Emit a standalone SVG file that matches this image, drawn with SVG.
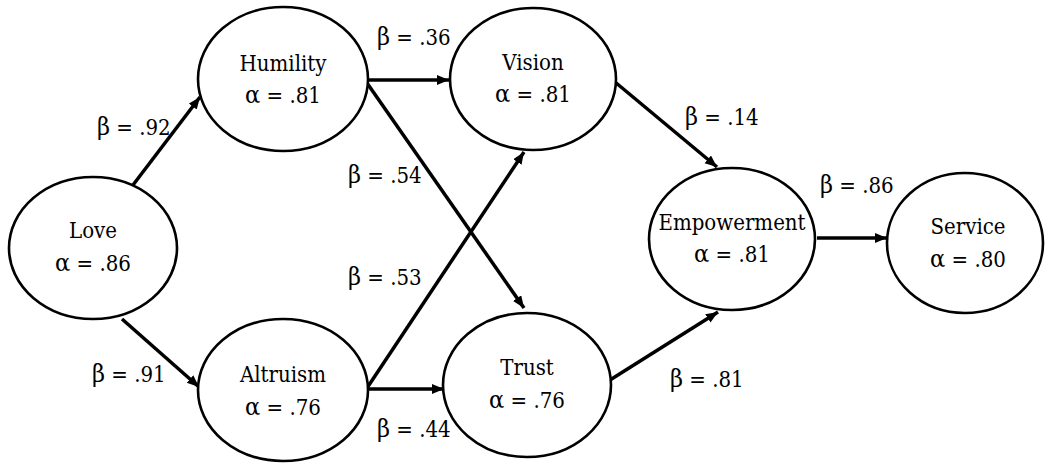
<svg xmlns="http://www.w3.org/2000/svg" width="1045" height="463" viewBox="0 0 1045 463">
<style>
text{font-family:"DejaVu Serif Condensed","DejaVu Serif",serif;font-stretch:condensed;font-size:22px;fill:#000}
.g{font-size:25px}
.node ellipse{fill:#fff;stroke:#000;stroke-width:2.6}
.node text{text-anchor:middle}
.edge{stroke:#000;stroke-width:3.5;fill:none;marker-end:url(#ah)}
</style>
<defs>
<marker id="ah" markerUnits="userSpaceOnUse" markerWidth="14" markerHeight="12" refX="12" refY="5" orient="auto">
<path d="M0,0 L12,5 L0,10 z" fill="#000"/>
</marker>
</defs>
<rect width="1045" height="463" fill="#fff"/>
<g id="connectors">
<line class="edge" x1="133" y1="185" x2="200" y2="97"/>
<line class="edge" x1="122" y1="319" x2="199" y2="387"/>
<line class="edge" x1="367" y1="80" x2="449" y2="80"/>
<line class="edge" x1="367" y1="83" x2="524" y2="308"/>
<line class="edge" x1="367" y1="388" x2="524" y2="152"/>
<line class="edge" x1="367" y1="389" x2="444" y2="389"/>
<line class="edge" x1="615" y1="82" x2="717" y2="167"/>
<line class="edge" x1="610" y1="380" x2="718" y2="312"/>
<line class="edge" x1="817" y1="238" x2="887" y2="238"/>
</g>
<g id="labels">
<text x="97" y="135"><tspan class="g">β</tspan> = .92</text>
<text x="92" y="382"><tspan class="g">β</tspan> = .91</text>
<text x="377" y="45"><tspan class="g">β</tspan> = .36</text>
<text x="348" y="183"><tspan class="g">β</tspan> = .54</text>
<text x="348" y="285"><tspan class="g">β</tspan> = .53</text>
<text x="377" y="437"><tspan class="g">β</tspan> = .44</text>
<text x="685" y="125"><tspan class="g">β</tspan> = .14</text>
<text x="670" y="387"><tspan class="g">β</tspan> = .81</text>
<text x="820" y="193"><tspan class="g">β</tspan> = .86</text>
</g>
<g id="love" class="node">
<ellipse cx="93" cy="248" rx="84" ry="71"/>
<text x="93" y="238">Love</text>
<text x="93" y="271"><tspan class="g">α</tspan> = .86</text>
</g>
<g id="humility" class="node">
<ellipse cx="283" cy="79" rx="85" ry="72"/>
<text x="283" y="71">Humility</text>
<text x="283" y="103"><tspan class="g">α</tspan> = .81</text>
</g>
<g id="altruism" class="node">
<ellipse cx="283" cy="390" rx="85" ry="71"/>
<text x="283" y="382">Altruism</text>
<text x="283" y="415"><tspan class="g">α</tspan> = .76</text>
</g>
<g id="vision" class="node">
<ellipse cx="533" cy="79" rx="83" ry="71"/>
<text x="533" y="70">Vision</text>
<text x="533" y="102"><tspan class="g">α</tspan> = .81</text>
</g>
<g id="trust" class="node">
<ellipse cx="527" cy="385" rx="84" ry="72"/>
<text x="527" y="375">Trust</text>
<text x="527" y="408"><tspan class="g">α</tspan> = .76</text>
</g>
<g id="empowerment" class="node">
<ellipse cx="732" cy="239" rx="83" ry="71"/>
<text x="732" y="230">Empowerment</text>
<text x="732" y="262"><tspan class="g">α</tspan> = .81</text>
</g>
<g id="service" class="node">
<ellipse cx="965" cy="243" rx="78" ry="70"/>
<text x="968" y="234">Service</text>
<text x="968" y="267"><tspan class="g">α</tspan> = .80</text>
</g>
</svg>
